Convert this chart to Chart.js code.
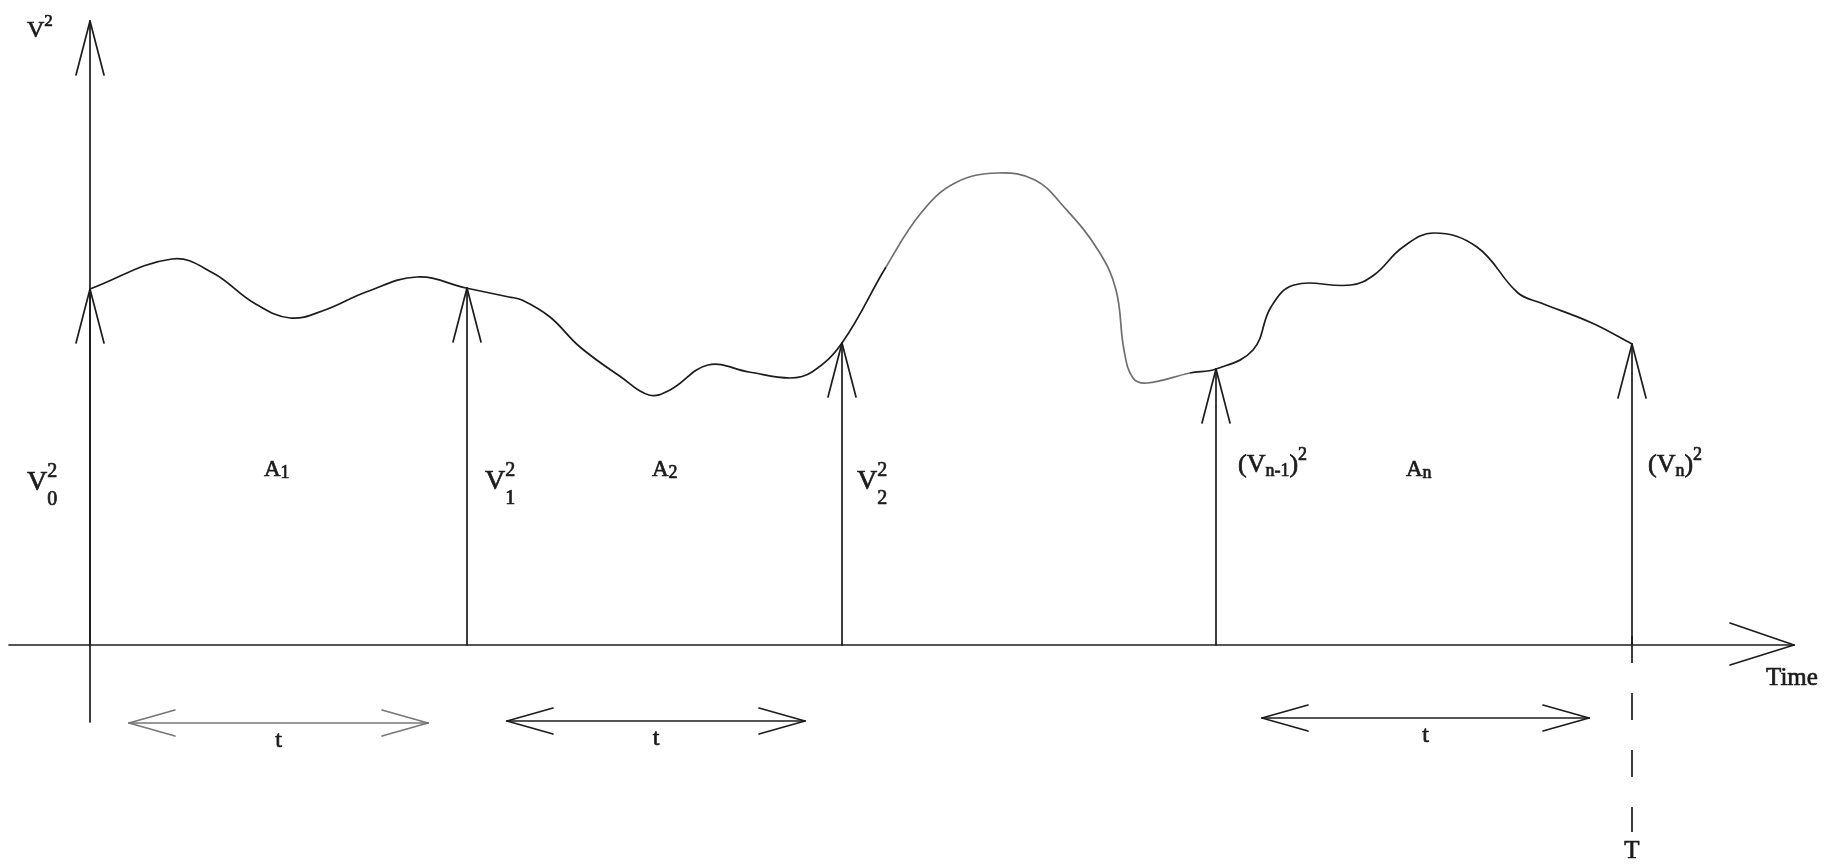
<!DOCTYPE html>
<html>
<head>
<meta charset="utf-8">
<script src="https://cdn.jsdelivr.net/npm/chart.js@4.4.1/dist/chart.umd.min.js"></script>
<style>
  html, body { margin: 0; padding: 0; background: #fff; }
  #wrap { width: 1842px; height: 864px; position: relative; }
</style>
</head>
<body>
<div id="wrap"><canvas id="myChart"></canvas></div>
<script>
// V^2 trace against time (time 0 at the vertical axis, V^2 = 0 on the time axis)
const curveTime = [0, 82, 123, 164, 200, 235, 276, 327, 376, 419, 432, 460, 490, 531, 559, 580, 618, 659, 700, 722,
    752, 796, 831, 865, 908, 945, 974, 1008, 1026, 1034, 1043, 1057, 1100, 1126,
    1163, 1181, 1204, 1261, 1284, 1313, 1344, 1387, 1428, 1451, 1502, 1542];
const curveV2 = [356, 386, 372, 342, 327, 335, 353, 368, 357, 348, 345, 328, 298, 268, 250, 255, 280, 273, 267, 273,
    302, 378, 432, 462, 472, 465, 438, 395, 355, 295, 267, 262, 272, 276,
    295, 338, 360, 360, 370, 398, 412, 398, 352, 342, 322, 301];

// sampling instants and the V^2 read at each
const sampleTime = [0, 377, 752, 1126, 1542];
const sampleV2 = [356, 357, 302, 276, 301];

// the "t" interval arrows under the time axis
const periodFrom = [39, 417, 1172];
const periodTo = [338, 715, 1499];
const periodLevel = [-78, -76, -73];

// axis extents
const axisTop = 624;
const axisBottom = -77;
const axisLeft = -81;
const axisRight = 1704;
const dashBottom = -187;

const ink = '#1c1c1c';
const serif = '"Liberation Serif", "DejaVu Serif", serif';

function put(ctx, text, x, y) {
    ctx.fillText(text, x, y);
    ctx.strokeText(text, x, y);
}

function drawParts(ctx, x, y, parts) {
    let cx = x;
    parts.forEach(p => {
        ctx.font = p.size + 'px ' + serif;
        if (p.stack) {
            let w = 0;
            p.stack.forEach(s => {
                ctx.font = s.size + 'px ' + serif;
                put(ctx, s.text, cx, y + s.dy);
                w = Math.max(w, ctx.measureText(s.text).width);
            });
            cx += w;
        } else {
            put(ctx, p.text, cx, y + (p.dy || 0));
            cx += ctx.measureText(p.text).width;
        }
    });
}

function vLabel(k) {
    return [{ text: 'V', size: 28 }, { stack: [{ text: '2', size: 20, dy: -13 }, { text: k, size: 20, dy: 15 }] }];
}

const diagram = {
    id: 'diagram',
    afterDatasetsDraw(chart) {
        const ctx = chart.ctx;
        const xs = chart.scales.x, ys = chart.scales.y;
        const px = v => xs.getPixelForValue(v);
        const py = v => ys.getPixelForValue(v);

        ctx.save();
        ctx.strokeStyle = ink;
        ctx.lineWidth = 1.7;
        ctx.lineCap = 'round';

        const line = (x1, y1, x2, y2) => {
            ctx.beginPath(); ctx.moveTo(x1, y1); ctx.lineTo(x2, y2); ctx.stroke();
        };
        const headUp = (x, y) => {
            line(x, y, x - 14, y + 54);
            line(x, y, x + 14, y + 54);
        };
        const headSide = (x, y, dir) => {
            line(x, y, x - dir * 46, y - 13);
            line(x, y, x - dir * 46, y + 13);
        };

        // vertical axis
        line(px(0), py(axisBottom), px(0), py(axisTop));
        headUp(px(0), py(axisTop));
        // time axis
        line(px(axisLeft), py(0), px(axisRight), py(0));
        line(px(axisRight), py(0), px(axisRight) - 64, py(0) - 22);
        line(px(axisRight), py(0), px(axisRight) - 64, py(0) + 20);

        // sample stems with arrowheads on the curve
        sampleTime.forEach((t, i) => {
            line(px(t), py(0), px(t), py(sampleV2[i]));
            headUp(px(t), py(sampleV2[i]));
        });

        // dashed T line
        const tEnd = sampleTime[sampleTime.length - 1];
        ctx.setLineDash([27, 30]);
        ctx.lineCap = 'butt';
        line(px(tEnd), py(0) - 9, px(tEnd), py(dashBottom));
        ctx.setLineDash([]);
        ctx.lineCap = 'round';

        // t interval arrows
        periodFrom.forEach((a, i) => {
            ctx.strokeStyle = i === 0 ? '#777' : ink;
            const y = py(periodLevel[i]);
            line(px(a), y, px(periodTo[i]), y);
            headSide(px(a), y, -1);
            headSide(px(periodTo[i]), y, 1);
        });

        // text
        ctx.fillStyle = ink;
        ctx.strokeStyle = ink;
        ctx.lineWidth = 0.7;
        ctx.textBaseline = 'alphabetic';
        ctx.textAlign = 'left';
        drawParts(ctx, px(-63), py(608), [{ text: 'V', size: 24 }, { text: '2', size: 17, dy: -11 }]);

        drawParts(ctx, px(-63), py(155), vLabel('0'));
        drawParts(ctx, px(sampleTime[1]) + 18, py(156), vLabel('1'));
        drawParts(ctx, px(sampleTime[2]) + 15, py(156), vLabel('2'));
        drawParts(ctx, px(sampleTime[3]) + 22, py(173), [
            { text: '(V', size: 26 }, { text: 'n-1', size: 18, dy: 4 }, { text: ')', size: 26 }, { text: '2', size: 18, dy: -12 }]);
        drawParts(ctx, px(sampleTime[4]) + 16, py(173), [
            { text: '(V', size: 26 }, { text: 'n', size: 18, dy: 4 }, { text: ')', size: 26 }, { text: '2', size: 18, dy: -12 }]);

        const aLabels = [['1', 174], ['2', 562], ['n', 1316]];
        aLabels.forEach(([s, t]) => {
            drawParts(ctx, px(t), py(169), [{ text: 'A', size: 23 }, { text: s, size: 18, dy: 2 }]);
        });

        ctx.textAlign = 'center';
        ctx.font = '24px ' + serif;
        periodFrom.forEach((a, i) => {
            put(ctx, 't', (px(a) + px(periodTo[i])) / 2, py(periodLevel[i] - 24));
        });
        ctx.font = '25px ' + serif;
        put(ctx, 'T', px(tEnd), py(-213));
        ctx.textAlign = 'left';
        put(ctx, 'Time', px(1676), py(-40));
        ctx.restore();
    }
};

new Chart(document.getElementById('myChart'), {
    type: 'scatter',
    data: {
        datasets: [{
            data: curveTime.map((t, i) => ({ x: t, y: curveV2[i] })),
            showLine: true,
            borderColor: ink,
            borderWidth: 1.7,
            pointRadius: 0,
            tension: 0.4,
            clip: false,
            segment: {
                borderColor: c => (c.p0.parsed.x >= 780 && c.p1.parsed.x <= 1100) ? '#6f6f6f' : ink
            }
        }]
    },
    options: {
        responsive: true,
        maintainAspectRatio: false,
        animation: false,
        layout: { padding: 0 },
        scales: {
            x: { type: 'linear', display: false, min: -90, max: 1752 },
            y: { type: 'linear', display: false, min: -219, max: 645 }
        },
        plugins: {
            legend: { display: false },
            tooltip: { enabled: false }
        }
    },
    plugins: [diagram]
});
</script>
</body>
</html>
